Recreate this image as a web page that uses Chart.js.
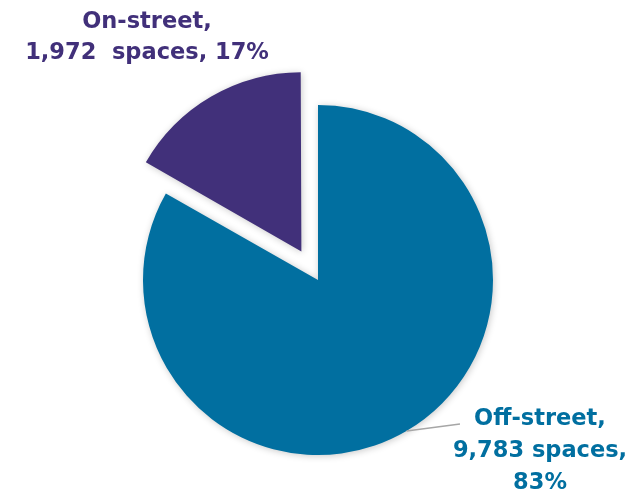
<!DOCTYPE html>
<html>
<head>
<meta charset="utf-8">
<script src="https://cdn.jsdelivr.net/npm/chart.js@4"></script>
<style>
  html, body { margin: 0; padding: 0; background: #fff; }
  #wrap { width: 636px; height: 492px; position: relative; }
</style>
</head>
<body>
<div id="wrap"><canvas id="myCanvas" width="636" height="492"></canvas></div>
<script>
let labels = ["Off-street", "On-street"]
let spaces = [9783, 1972]
let shares = ["83%", "17%"]
let colors = ["#016fa0", "#41307a"]

// slice labels, drawn as text next to the pie
let labelLines = [
    ["Off-street,", "9,783 spaces,", "83%"],
    ["On-street,", "1,972  spaces, 17%"]
]

const shadowPlugin = {
    id: "shadow",
    beforeDatasetsDraw(chart) {
        const ctx = chart.ctx
        ctx.save()
        ctx.shadowColor = "rgba(0,0,0,0.22)"
        ctx.shadowBlur = 7
        ctx.shadowOffsetX = 1
        ctx.shadowOffsetY = 1
    },
    afterDatasetsDraw(chart) {
        chart.ctx.restore()
    }
}

const labelPlugin = {
    id: "sliceLabels",
    afterDraw(chart) {
        const ctx = chart.ctx
        const arcs = chart.getDatasetMeta(0).data
        ctx.save()
        ctx.font = "bold 22.5px 'DejaVu Sans'"
        ctx.textAlign = "center"
        ctx.textBaseline = "middle"

        // off-street: leader line from the arc edge, text lower right
        let a = arcs[0]
        ctx.strokeStyle = "#a6a6a6"
        ctx.lineWidth = 1.5
        let ang = 1.04 // radians from +x axis, clockwise on screen
        ctx.beginPath()
        ctx.moveTo(a.x + Math.cos(ang) * a.outerRadius, a.y + Math.sin(ang) * a.outerRadius)
        ctx.lineTo(460, 424)
        ctx.stroke()
        ctx.fillStyle = colors[0]
        labelLines[0].forEach((t, i) => ctx.fillText(t, 540, 419 + i * 32))

        ctx.fillStyle = colors[1]
        labelLines[1].forEach((t, i) => ctx.fillText(t, 147, 22 + i * 31))
        ctx.restore()
    }
}

new Chart("myCanvas", {
    type: "pie",
    data: {
        labels: labels,
        datasets: [
            {
                data: spaces,
                backgroundColor: colors,
                borderWidth: 0,
                offset: [0, 132]
            }
        ]
    },
    options: {
        responsive: false,
        animation: false,
        radius: 175,
        layout: { padding: { top: 68, bottom: 0, left: 0, right: 0 } },
        plugins: {
            legend: { display: false },
            tooltip: { enabled: false }
        }
    },
    plugins: [shadowPlugin, labelPlugin]
})
</script>
</body>
</html>
